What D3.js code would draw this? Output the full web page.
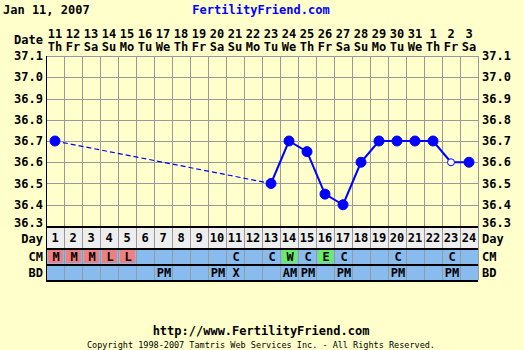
<!DOCTYPE html>
<html>
<head>
<meta charset="utf-8">
<title>Fertility chart</title>
<script src="https://d3js.org/d3.v7.min.js"></script>
<style>
  body { margin: 0; background: #ffffcc; }
  text { font-family: "DejaVu Sans Mono", monospace; font-weight: bold; font-size: 12px; fill: #000; }
</style>
</head>
<body>
<script>
// chart data
var dates = [11,12,13,14,15,16,17,18,19,20,21,22,23,24,25,26,27,28,29,30,31,1,2,3];
var weekdays = ["Th","Fr","Sa","Su","Mo","Tu","We","Th","Fr","Sa","Su","Mo","Tu","We","Th","Fr","Sa","Su","Mo","Tu","We","Th","Fr","Sa"];
var cycleDays = d3.range(1, 25);
var temps = [36.7,null,null,null,null,null,null,null,null,null,null,null,36.5,36.7,36.65,36.45,36.4,36.6,36.7,36.7,36.7,36.7,36.6,36.6];
var discarded = [23]; // open circle
var cm = ["M","M","M","L","L","","","","","","C","","C","W","C","E","C","","","C","","","C",""];
var bd = ["","","","","","","PM","","","PM","X","","","AM","PM","","PM","","","PM","","","PM",""];
var yTicks = [37.1,37.0,36.9,36.8,36.7,36.6,36.5,36.4,36.3];

var width = 524, height = 350;
var plotL = 46, plotR = 478, plotT = 56, plotB = 226;

var svg = d3.select("body").append("svg").attr("width", width).attr("height", height);
svg.append("rect").attr("width", width).attr("height", height).attr("fill", "#ffffcc");

var x = d3.scaleBand().domain(cycleDays).range([plotL, plotR]);
var y = d3.scaleLinear().domain([36.3, 37.1]).range([plotB, plotT]);

// header
svg.append("text").attr("x", 3).attr("y", 14).text("Jan 11, 2007");
svg.append("text").attr("x", 261).attr("y", 14).attr("text-anchor", "middle")
  .style("fill", "#0000ff").text("FertilityFriend.com");
svg.append("text").attr("x", 43).attr("y", 44).attr("text-anchor", "end").text("Date");

var head = svg.append("g");
head.selectAll(".dnum").data(cycleDays).enter().append("text")
  .attr("x", function(d) { return x(d) + x.bandwidth() / 2; }).attr("y", 38)
  .attr("text-anchor", "middle").text(function(d, i) { return dates[i]; });
head.selectAll(".wday").data(cycleDays).enter().append("text")
  .attr("x", function(d) { return x(d) + x.bandwidth() / 2; }).attr("y", 51)
  .attr("text-anchor", "middle").text(function(d, i) { return weekdays[i]; });

// grid
var grid = svg.append("g").attr("shape-rendering", "crispEdges");
grid.selectAll(".h").data(yTicks).enter().append("line")
  .attr("x1", plotL).attr("x2", plotR)
  .attr("y1", function(d) { return Math.round(y(d)) + 0.5; })
  .attr("y2", function(d) { return Math.round(y(d)) + 0.5; })
  .attr("stroke", "#999999");

// rows below the chart
var rowDay = [226, 248], rowCm = [249, 264], rowBd = [265, 280];
grid.append("rect").attr("x", plotL).attr("y", rowDay[0]).attr("width", plotR - plotL).attr("height", rowDay[1] - rowDay[0]).attr("fill", "#eeeeee");
grid.append("rect").attr("x", plotL).attr("y", rowCm[0]).attr("width", plotR - plotL).attr("height", rowCm[1] - rowCm[0]).attr("fill", "#88bbee");
grid.append("rect").attr("x", plotL).attr("y", rowBd[0]).attr("width", plotR - plotL).attr("height", rowBd[1] - rowBd[0]).attr("fill", "#88bbee");

function cmColor(v) {
  if (v === "M" || v === "L") return "#f08080";
  if (v === "W" || v === "E") return "#66ee66";
  return null;
}
grid.selectAll(".cmcell").data(cycleDays.filter(function(d, i) { return cmColor(cm[i]); }))
  .enter().append("rect")
  .attr("x", function(d) { return x(d) + 2; }).attr("y", rowCm[0] + 1)
  .attr("width", x.bandwidth() - 3).attr("height", rowCm[1] - rowCm[0] - 2)
  .attr("fill", function(d) { return cmColor(cm[d - 1]); });

grid.selectAll(".v").data(cycleDays.concat([25])).enter().append("line")
  .attr("x1", function(d) { return (d === 25 ? plotR : x(d)) + 0.5; })
  .attr("x2", function(d) { return (d === 25 ? plotR : x(d)) + 0.5; })
  .attr("y1", plotT).attr("y2", rowBd[1])
  .attr("stroke", "#999999").attr("stroke-width", 1.5);

[rowDay[0], rowDay[1], rowBd[0] - 1, rowBd[1]].forEach(function(yy) {
  grid.append("line").attr("x1", plotL).attr("x2", plotR)
    .attr("y1", yy + 0.5).attr("y2", yy + 0.5).attr("stroke", "#000").attr("stroke-width", 2);
});
grid.append("line").attr("x1", plotL + 0.5).attr("x2", plotL + 0.5).attr("y1", plotT).attr("y2", rowBd[1] + 1)
  .attr("stroke", "#000").attr("stroke-width", 1.5);

// axis labels
var ticks = svg.append("g");
function tickY(d) { return d === 36.3 ? y(d) + 1 : y(d) + 4; }
ticks.selectAll(".yl").data(yTicks).enter().append("text")
  .attr("x", 43).attr("y", tickY)
  .attr("text-anchor", "end").text(function(d) { return d.toFixed(1); });
ticks.selectAll(".yr").data(yTicks).enter().append("text")
  .attr("x", 482).attr("y", tickY)
  .text(function(d) { return d.toFixed(1); });

[["Day", 243], ["CM", 261], ["BD", 277]].forEach(function(r) {
  svg.append("text").attr("x", 43).attr("y", r[1]).attr("text-anchor", "end").text(r[0]);
  svg.append("text").attr("x", 482).attr("y", r[1]).text(r[0]);
});

var rows = svg.append("g");
rows.selectAll(".day").data(cycleDays).enter().append("text")
  .attr("x", function(d) { return x(d) + x.bandwidth() / 2; }).attr("y", 242)
  .attr("text-anchor", "middle").text(function(d) { return d; });
rows.selectAll(".cm").data(cycleDays).enter().append("text")
  .attr("x", function(d) { return x(d) + x.bandwidth() / 2 + 1; }).attr("y", 261)
  .attr("text-anchor", "middle").text(function(d, i) { return cm[i]; });
rows.selectAll(".bd").data(cycleDays).enter().append("text")
  .attr("x", function(d) { return x(d) + x.bandwidth() / 2 + 1; }).attr("y", 277)
  .attr("text-anchor", "middle").text(function(d, i) { return bd[i]; });

// temperature line
var pts = cycleDays.map(function(d, i) { return { day: d, t: temps[i] }; })
  .filter(function(p) { return p.t !== null; });
var cx = function(p) { return x(p.day) + x.bandwidth() / 2; };
var cy = function(p) { return y(p.t); };
var line = d3.line().x(cx).y(cy);

for (var i = 1; i < pts.length; i++) {
  var gap = pts[i].day - pts[i - 1].day > 1;
  svg.append("path").attr("d", line([pts[i - 1], pts[i]]))
    .attr("fill", "none").attr("stroke", "#0000ff")
    .attr("stroke-width", gap ? 1.2 : 2)
    .attr("stroke-dasharray", gap ? "5,3" : null);
}

svg.selectAll(".pt").data(pts).enter().append("circle")
  .attr("cx", cx).attr("cy", cy)
  .attr("r", function(p) { return discarded.indexOf(p.day) >= 0 ? 3.5 : 5; })
  .attr("fill", function(p) { return discarded.indexOf(p.day) >= 0 ? "#ffffff" : "#0000ff"; })
  .attr("stroke", "#0000ff").attr("stroke-width", 1);

// footer
svg.append("text").attr("x", 261).attr("y", 335).attr("text-anchor", "middle").text("http://www.FertilityFriend.com");
svg.append("text").attr("x", 261).attr("y", 348).attr("text-anchor", "middle")
  .style("font-size", "8.5px").style("font-weight", "normal")
  .text("Copyright 1998-2007 Tamtris Web Services Inc. - All Rights Reserved.");
</script>
</body>
</html>
